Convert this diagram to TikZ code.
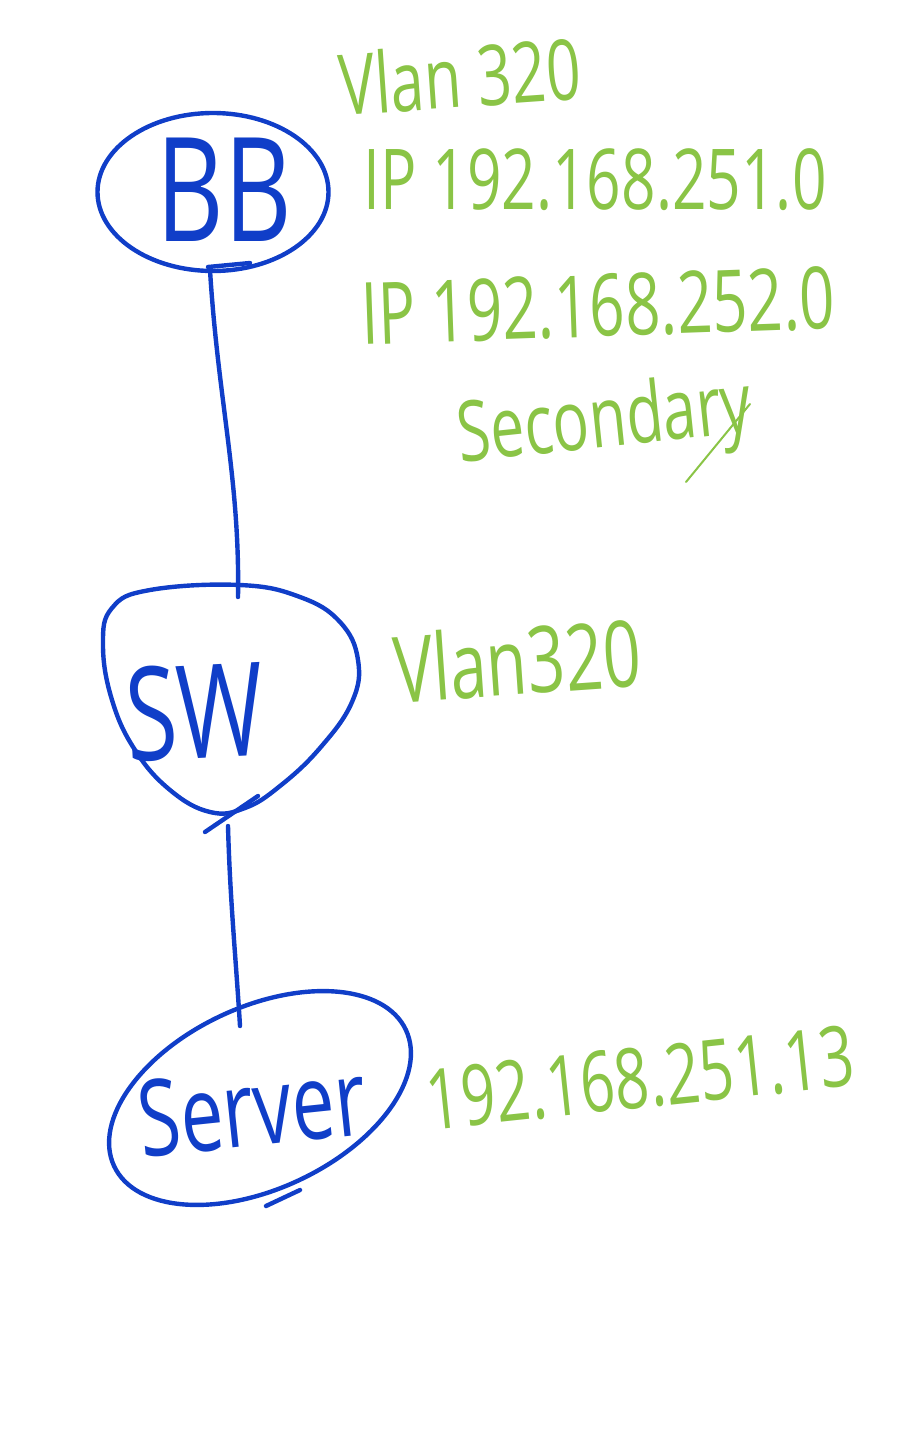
\documentclass[tikz,border=0pt]{standalone}
\usepackage{fontspec}
\newfontfamily\hand[FakeStretch=0.72]{Open Sans}
\usetikzlibrary{shapes.geometric}
\definecolor{inkblue}{RGB}{16,62,200}
\definecolor{inkgreen}{RGB}{138,196,70}
\tikzset{
  blueline/.style={draw=inkblue, line width=4.4pt, line cap=round, line join=round},
  bluetext/.style={text=inkblue, inner sep=0pt, font=\hand},
  greentext/.style={text=inkgreen, inner sep=0pt, font=\hand\fontsize{84}{92}\selectfont},
}
\begin{document}
\begin{tikzpicture}[x=1pt,y=-1pt]
\useasboundingbox (0,0) rectangle (914,1440);
% BB
\node[ellipse, blueline, minimum width=231pt, minimum height=158pt, inner sep=0pt] (bb) at (213,192) {};
\node[bluetext, font=\hand\fontsize{145}{150}\selectfont] (bbt) at (224,190) {BB};
\draw[blueline] (208,267) -- (250,263);
% SW
\draw[blueline] plot[smooth cycle, tension=0.7] coordinates {(240,585) (300,597) (340,622) (358,660) (352,702) (320,748) (280,786) (245,808) (210,812) (170,790) (135,750) (112,700) (103,645) (112,608) (150,590)};
\node[minimum width=257pt, minimum height=227pt, inner sep=0pt] (sw) at (231,698) {};
\node[bluetext, font=\hand\fontsize{130}{140}\selectfont, rotate=3] (swt) at (195,712) {SW};
\draw[blueline] (205,832) -- (258,796);
% Server
\node[ellipse, blueline, rotate=25, minimum width=322pt, minimum height=182pt, inner sep=0pt] (srv) at (260,1098) {};
\node[bluetext, font=\hand\fontsize{106}{112}\selectfont, rotate=6] (srvt) at (252,1108) {Server};
\draw[blueline] (266,1206) -- (300,1190);
% connectors
\coordinate (c1) at (210,270);
\coordinate (c2) at (238,597);
\coordinate (c3) at (228,826);
\coordinate (c4) at (240,1026);
\draw[blueline] (c1) .. controls (218,400) and (240,480) .. (c2);
\draw[blueline] (c3) .. controls (230,900) and (236,960) .. (c4);
% green labels
\node[greentext, rotate=4] (v1) at (460,76) {Vlan 320};
\node[greentext] (ip1) at (595,180) {IP 192.168.251.0};
\node[greentext, font=\hand\fontsize{86}{94}\selectfont, rotate=2] (ip2) at (598,306) {IP 192.168.252.0};
\node[greentext, rotate=6] (sec) at (605,425) {Secondary};
\draw[inkgreen, line width=2pt, line cap=round] (750,404) -- (686,482);
\node[greentext, font=\hand\fontsize{92}{100}\selectfont, rotate=4] (v2) at (517,660) {Vlan320};
\node[greentext, rotate=6] (ip3) at (640,1078) {192.168.251.13};
\end{tikzpicture}
\end{document}
